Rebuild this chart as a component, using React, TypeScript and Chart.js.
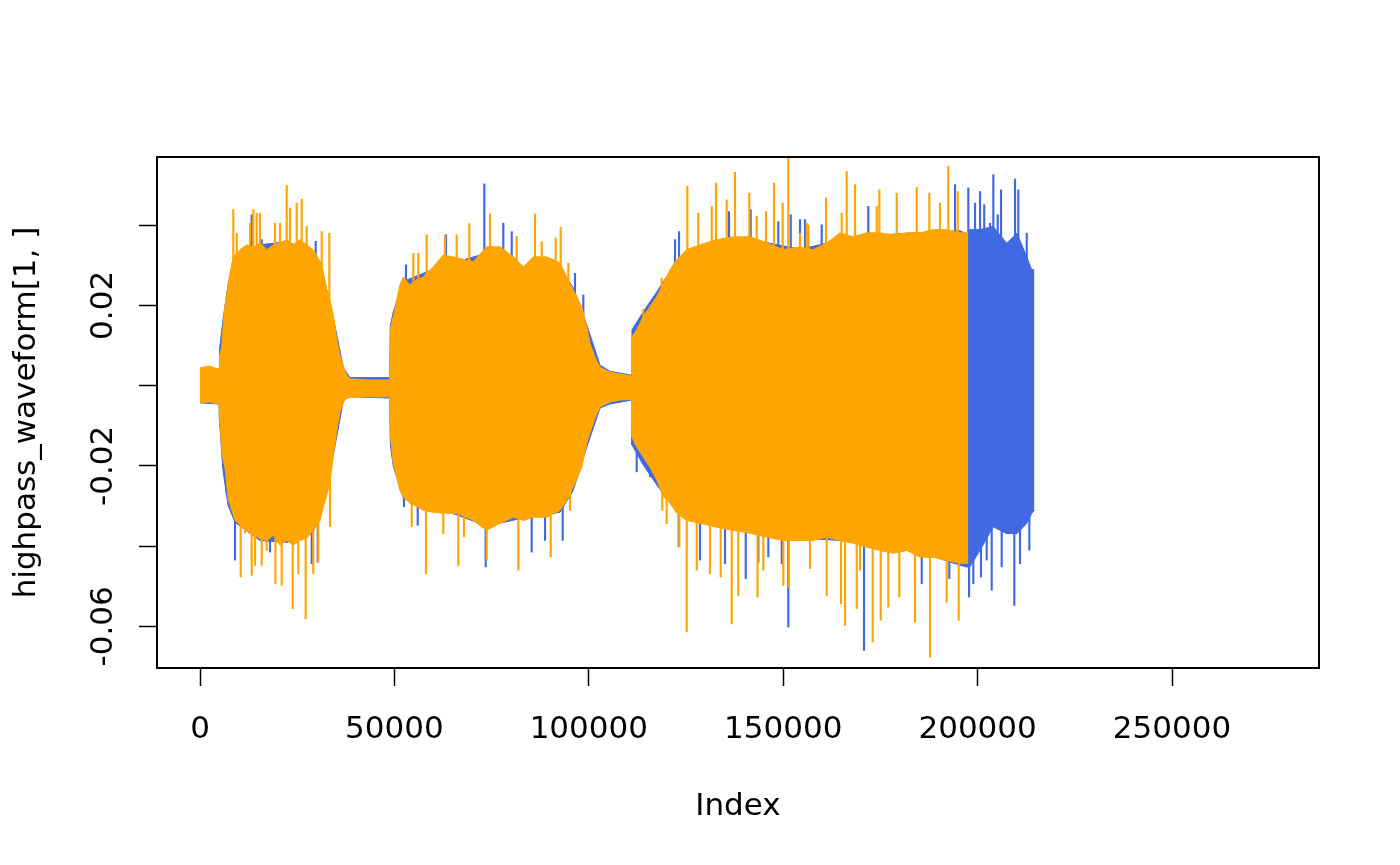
import React, { useEffect, useRef } from 'react';
import { Chart, registerables } from 'chart.js';

Chart.register(...registerables);

const ORANGE = '#FFA500';
const BLUE = '#4169E1';

const xTitle = 'Index';
const yTitle = 'highpass_waveform[1, ]';
const xTickValues = [0, 50000, 100000, 150000, 200000, 250000];
const yTickValues = [-0.06, -0.04, -0.02, 0, 0.02, 0.04];
const yLabelValues = [0.02, -0.02, -0.06];
const yLabelTexts = ['0.02', '-0.02', '-0.06'];

// Orange series envelope (sample index, upper, lower)
const orangeEnvX = [0, 2300, 4900, 5000, 5600, 6000, 6400, 7300, 8200, 9000, 10300, 12000, 13700, 15400, 17200, 18900, 20600, 22300, 24000, 25700, 27400, 29100, 30900, 31700, 32600, 33400, 34300, 35200, 36000, 36900, 37700, 38600, 43700, 48800, 48900, 49700, 50600, 51400, 52300, 54000, 55700, 57400, 60000, 62600, 66000, 70300, 73700, 77200, 80600, 83200, 85700, 89200, 92600, 94300, 96000, 98200, 99500, 100300, 101600, 102900, 105400, 108000, 111000, 111100, 112300, 114000, 115700, 117500, 119200, 120900, 122600, 125200, 128600, 132900, 137200, 141500, 145800, 150000, 154300, 157700, 161200, 164600, 168000, 171500, 174900, 178300, 181800, 185200, 188600, 192000, 195500, 197600];
const orangeEnvHi = [0.0044, 0.0049, 0.0041, 0.0072, 0.0097, 0.0156, 0.0197, 0.0256, 0.0306, 0.0326, 0.0339, 0.0351, 0.0344, 0.0356, 0.0339, 0.0351, 0.0356, 0.0364, 0.0351, 0.0364, 0.0351, 0.0339, 0.0309, 0.0284, 0.0239, 0.0214, 0.0176, 0.0114, 0.0076, 0.0049, 0.0027, 0.0017, 0.0014, 0.0014, 0.0139, 0.0172, 0.0214, 0.0251, 0.0271, 0.0251, 0.0264, 0.0271, 0.0296, 0.0326, 0.0319, 0.0309, 0.0346, 0.0346, 0.0321, 0.0296, 0.0321, 0.0321, 0.0306, 0.0271, 0.0239, 0.0196, 0.0146, 0.0106, 0.0071, 0.0046, 0.0034, 0.0029, 0.0024, 0.0122, 0.0139, 0.0172, 0.0197, 0.0222, 0.0256, 0.0289, 0.0314, 0.0339, 0.0351, 0.0364, 0.0371, 0.0371, 0.0356, 0.0339, 0.0346, 0.0339, 0.0356, 0.0381, 0.0371, 0.0381, 0.0381, 0.0376, 0.0381, 0.0381, 0.0389, 0.0389, 0.0381, 0.0381];
const orangeEnvLo = [-0.0043, -0.0041, -0.0046, -0.0078, -0.0161, -0.0186, -0.0203, -0.0286, -0.0311, -0.0336, -0.0348, -0.0361, -0.0373, -0.0381, -0.0386, -0.0373, -0.0398, -0.0386, -0.0398, -0.0386, -0.0381, -0.0361, -0.0336, -0.0303, -0.0273, -0.0243, -0.0173, -0.0111, -0.0066, -0.0041, -0.0031, -0.0029, -0.0028, -0.0028, -0.0118, -0.0193, -0.0228, -0.0261, -0.0278, -0.0293, -0.0301, -0.0311, -0.0316, -0.0318, -0.0318, -0.0336, -0.0361, -0.0343, -0.0328, -0.0336, -0.0328, -0.0328, -0.0311, -0.0286, -0.0253, -0.0203, -0.0143, -0.0118, -0.0081, -0.0053, -0.0041, -0.0036, -0.0034, -0.0128, -0.0153, -0.0178, -0.0203, -0.0236, -0.0277, -0.0293, -0.0318, -0.0336, -0.0343, -0.0353, -0.0361, -0.0368, -0.0378, -0.0386, -0.0386, -0.0386, -0.0378, -0.0386, -0.0393, -0.0403, -0.0411, -0.0418, -0.0411, -0.0428, -0.0428, -0.0436, -0.0443, -0.0443];

// Orange single-sample peaks
const orangeSpikeX = [8565, 9440, 10470, 11570, 12860, 13290, 13710, 14150, 14580, 15430, 15870, 17150, 19290, 19400, 20580, 21010, 22300, 23150, 23840, 24870, 25280, 26160, 27180, 27440, 29140, 30430, 31300, 33260, 33440, 54450, 54870, 56150, 58130, 58300, 62580, 63010, 66020, 66440, 67900, 69270, 73740, 74590, 81450, 81870, 86160, 87880, 90200, 91480, 92770, 94730, 95160, 114020, 118750, 118900, 120030, 123280, 125180, 125340, 127750, 128160, 131170, 131610, 132720, 133920, 135470, 136750, 137600, 138450, 141280, 143180, 143400, 144880, 145580, 147630, 149860, 150030, 151310, 151490, 154320, 156040, 156460, 156890, 161010, 161200, 164860, 165040, 165900, 166330, 168470, 168900, 169750, 173010, 174040, 174720, 175080, 177030, 179190, 179860, 183900, 184330, 187580, 187760, 190330, 192050, 192460, 194880, 195140];
const orangeSpikeY = [0.0439, 0.0380, -0.0477, -0.0368, 0.0405, -0.0473, 0.0439, -0.0448, 0.0430, 0.0430, -0.0448, -0.0411, 0.0405, -0.0494, 0.0405, -0.0498, 0.0499, 0.0443, -0.0556, 0.0455, -0.0469, 0.0465, -0.0581, 0.0397, -0.0469, -0.0440, 0.0384, 0.0380, -0.0352, -0.0352, 0.0330, 0.0330, -0.0469, 0.0376, -0.0369, 0.0376, 0.0376, -0.0448, -0.0377, 0.0404, -0.0435, 0.0428, 0.0372, -0.0460, 0.0428, 0.0359, -0.0427, 0.0368, 0.0395, 0.0305, -0.0311, 0.0190, 0.0268, -0.0311, -0.0344, -0.0402, -0.0614, 0.0497, -0.0460, 0.0430, -0.0469, 0.0447, 0.0505, -0.0477, 0.0463, -0.0594, 0.0532, -0.0523, 0.0480, 0.0422, -0.0527, -0.0460, 0.0434, 0.0505, 0.0455, -0.0498, 0.0572, -0.0502, 0.0380, 0.0405, 0.0401, -0.0456, 0.0468, -0.0523, -0.0544, 0.0430, -0.0598, 0.0534, 0.0501, -0.0556, -0.0460, -0.0639, 0.0447, 0.0488, -0.0585, -0.0552, 0.0480, -0.0527, -0.0590, 0.0494, 0.0480, -0.0677, 0.0455, -0.0540, 0.0547, 0.0484, -0.0585];

// Blue series envelope
const blueEnvX = [0, 4900, 5000, 5900, 7200, 9000, 15400, 22300, 29100, 31700, 34300, 36900, 38600, 48800, 48950, 49700, 52300, 62600, 73700, 83200, 92600, 96000, 99500, 102900, 105400, 111000, 111100, 114000, 117500, 122600, 128600, 141500, 154300, 168000, 181800, 195500, 197600, 198000, 200600, 204000, 207500, 210100, 212600, 213900, 214600];
const blueEnvHi = [0.0044, 0.0041, 0.0089, 0.0164, 0.0251, 0.0321, 0.0351, 0.0359, 0.0334, 0.0276, 0.0169, 0.0044, 0.0020, 0.0020, 0.0149, 0.0184, 0.0260, 0.0300, 0.0330, 0.0290, 0.0295, 0.0244, 0.0151, 0.0051, 0.0036, 0.0026, 0.0139, 0.0184, 0.0234, 0.0310, 0.0345, 0.0365, 0.0340, 0.0370, 0.0380, 0.0386, 0.0376, 0.0389, 0.0389, 0.0397, 0.0355, 0.0380, 0.0322, 0.0289, 0.0289];
const blueEnvLo = [-0.0043, -0.0046, -0.0086, -0.0211, -0.0298, -0.0341, -0.0386, -0.0391, -0.0366, -0.0298, -0.0173, -0.0036, -0.0028, -0.0031, -0.0148, -0.0201, -0.0281, -0.0310, -0.0350, -0.0330, -0.0316, -0.0261, -0.0153, -0.0056, -0.0046, -0.0036, -0.0148, -0.0198, -0.0248, -0.0315, -0.0340, -0.0365, -0.0380, -0.0388, -0.0405, -0.0448, -0.0453, -0.0452, -0.0411, -0.0352, -0.0369, -0.0369, -0.0344, -0.0319, -0.0310];

// Blue single-sample peaks
const blueSpikeX = [6870, 9000, 13290, 15870, 18000, 28730, 29750, 30270, 52470, 52980, 55990, 63270, 73120, 73480, 78010, 80170, 85310, 88730, 93280, 96450, 98590, 112320, 115740, 117030, 122170, 123120, 123200, 128600, 135030, 136060, 140360, 141630, 143600, 146170, 148740, 149610, 151310, 151930, 154320, 155610, 159900, 170780, 171890, 185620, 192720, 194190, 197610, 197800, 198900, 199330, 200620, 200870, 201700, 202340, 203190, 203620, 204040, 205170, 206020, 206190, 209440, 209620, 210470, 210900, 212630, 213300];
const blueSpikeY = [-0.0269, -0.0435, 0.0426, 0.0364, -0.0415, -0.0444, 0.0360, -0.0440, -0.0302, 0.0301, -0.0348, 0.0376, 0.0503, -0.0452, 0.0405, 0.0384, -0.0415, -0.0386, -0.0386, 0.0280, 0.0226, -0.0215, -0.0227, 0.0214, 0.0364, -0.0402, 0.0384, -0.0435, -0.0444, 0.0434, -0.0481, 0.0439, -0.0440, -0.0427, 0.0409, -0.0444, -0.0602, 0.0426, 0.0414, 0.0414, 0.0401, -0.0660, 0.0447, -0.0494, -0.0481, 0.0501, 0.0493, -0.0527, -0.0494, 0.0455, 0.0484, -0.0477, 0.0451, -0.0435, 0.0405, -0.0510, 0.0526, 0.0426, 0.0488, -0.0452, -0.0548, 0.0515, 0.0488, -0.0444, 0.0380, -0.0410];

const toPoints = (xs: number[], ys: number[]) => xs.map((x, i) => ({ x, y: ys[i] }));
const toSortedPoints = (xs: number[], ys: number[]) => toPoints(xs, ys).sort((a, b) => a.x - b.x);

const FONT = '"DejaVu Sans", sans-serif';
const FONT_SIZE = 31;

const rFramePlugin = {
  id: 'rFrame',
  afterDraw(chart: any) {
    const { ctx, chartArea: a, scales } = chart;
    ctx.save();
    ctx.strokeStyle = '#000';
    ctx.lineWidth = 2;
    ctx.strokeRect(a.left, a.top, a.right - a.left, a.bottom - a.top);
    ctx.fillStyle = '#000';
    ctx.font = `${FONT_SIZE}px ${FONT}`;
    const ys = scales.y;
    yLabelValues.forEach((v, i) => {
      ctx.save();
      ctx.translate(a.left - 45, ys.getPixelForValue(v));
      ctx.rotate(-Math.PI / 2);
      ctx.textAlign = 'center';
      ctx.textBaseline = 'alphabetic';
      ctx.fillText(yLabelTexts[i], 0, 0);
      ctx.restore();
    });
    ctx.save();
    ctx.translate(35, (a.top + a.bottom) / 2);
    ctx.rotate(-Math.PI / 2);
    ctx.textAlign = 'center';
    ctx.textBaseline = 'alphabetic';
    ctx.fillText(yTitle, 0, 0);
    ctx.restore();
    ctx.textAlign = 'center';
    ctx.textBaseline = 'alphabetic';
    ctx.fillText(xTitle, (a.left + a.right) / 2, a.bottom + 147);
    ctx.restore();
  },
};

export default function App() {
  const ref = useRef<HTMLCanvasElement | null>(null);
  useEffect(() => {
    if (!ref.current) return;
    const lineBase = { type: 'line' as const, pointRadius: 0, borderWidth: 1, tension: 0 };
    const spikeBase = { type: 'bar' as const, barThickness: 1.5, grouped: false, borderWidth: 0 };
    const chart = new Chart(ref.current, {
      type: 'line',
      data: {
        datasets: [
          { ...lineBase, data: toPoints(orangeEnvX, orangeEnvHi), borderColor: ORANGE, backgroundColor: ORANGE, fill: '+1' },
          { ...lineBase, data: toPoints(orangeEnvX, orangeEnvLo), borderColor: ORANGE, backgroundColor: ORANGE, fill: false },
          { ...spikeBase, data: toSortedPoints(orangeSpikeX, orangeSpikeY), backgroundColor: ORANGE } as any,
          { ...lineBase, data: toPoints(blueEnvX, blueEnvHi), borderColor: BLUE, backgroundColor: BLUE, fill: '+1' },
          { ...lineBase, data: toPoints(blueEnvX, blueEnvLo), borderColor: BLUE, backgroundColor: BLUE, fill: false },
          { ...spikeBase, data: toSortedPoints(blueSpikeX, blueSpikeY), backgroundColor: BLUE } as any,
        ],
      },
      options: {
        responsive: false,
        animation: false,
        events: [],
        layout: { padding: { left: 0, right: 81, top: 157, bottom: 0 } },
        plugins: { legend: { display: false }, tooltip: { enabled: false }, title: { display: false } },
        scales: {
          x: {
            type: 'linear',
            min: -11060,
            max: 287800,
            offset: false,
            afterBuildTicks: (s: any) => { s.ticks = xTickValues.map((v) => ({ value: v })); },
            afterFit: (s: any) => { s.height = 197; },
            border: { display: false },
            grid: { display: true, offset: false, drawOnChartArea: false, drawTicks: true, tickLength: 18, tickWidth: 1.5, tickColor: '#000' },
            ticks: {
              color: '#000',
              font: { family: FONT, size: FONT_SIZE },
              padding: 25,
              maxRotation: 0,
              autoSkip: false,
              callback: (v: any) => String(v),
            },
          },
          y: {
            type: 'linear',
            min: -0.0704,
            max: 0.0570,
            offset: false,
            afterBuildTicks: (s: any) => { s.ticks = yTickValues.map((v) => ({ value: v })); },
            afterFit: (s: any) => { s.width = 157; },
            border: { display: false },
            grid: { display: true, offset: false, drawOnChartArea: false, drawTicks: true, tickLength: 18, tickWidth: 1.5, tickColor: '#000' },
            ticks: { display: false },
          },
        },
      },
      plugins: [rFramePlugin],
    });
    return () => chart.destroy();
  }, []);
  return (
    <div style={{ position: 'absolute', left: 0, top: 0, width: 1400, height: 865, background: '#fff' }}>
      <canvas ref={ref} width={1400} height={865} style={{ display: 'block' }} />
    </div>
  );
}
